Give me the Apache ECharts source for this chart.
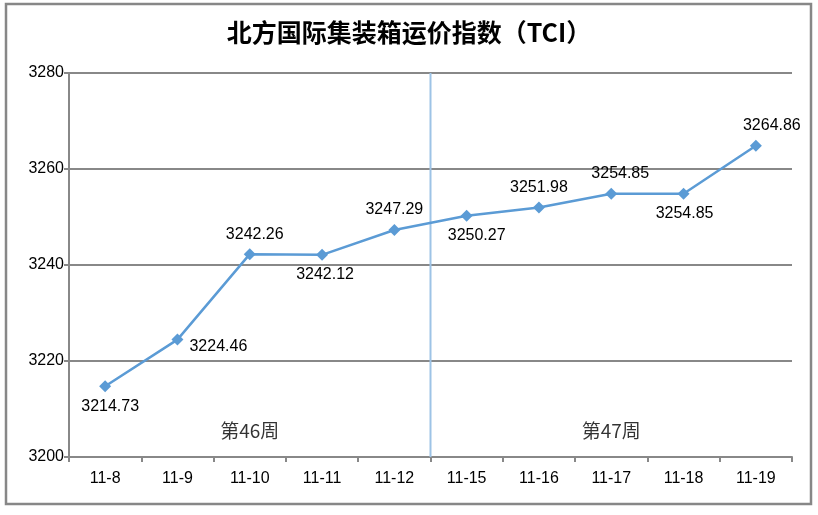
<!DOCTYPE html>
<html><head><meta charset="utf-8">
<script src="https://cdn.jsdelivr.net/npm/echarts@6/dist/echarts.min.js"></script>
<style>html,body{margin:0;padding:0;background:#fff}#c{width:818px;height:515px}</style>
</head><body><div id="c"></div>
<script>
const title = '北方国际集装箱运价指数（TCI）';
const categories = ['11-8','11-9','11-10','11-11','11-12','11-15','11-16','11-17','11-18','11-19'];
const values = [3214.73,3224.46,3242.26,3242.12,3247.29,3250.27,3251.98,3254.85,3254.85,3264.86];
const labelPos = ['bottom','right','top','bottom','top','bottom','top','top','bottom','top'];
const labelOffset = [[5,0],[0,7],[5,0],[3,0],[0,0],[10,0],[0,0],[9,0],[1,0],[16,0]];
const weekLabels = ['第46周','第47周'];
const weekPos = [2, 7];
const weekSplit = 4.5;
const yTicks = [3200,3220,3240,3260,3280];

const chart = echarts.init(document.getElementById('c'));
const font = 'Liberation Sans, Arial, sans-serif';
chart.setOption({
  animation:false,
  backgroundColor:'#fff',
  title:{text:title,left:'center',top:15,textStyle:{fontFamily:'Noto Sans CJK SC',fontSize:25,fontWeight:'bold',color:'#000'}},
  graphic:[{type:'rect',shape:{x:6,y:4,width:805,height:500},style:{fill:'none',stroke:'#878787',lineWidth:2.5},silent:true}],
  grid:{left:69,right:26,top:73,bottom:58},
  xAxis:[{type:'category',data:categories,boundaryGap:true,
    axisLine:{onZero:false,lineStyle:{color:'#888',width:2}},
    axisTick:{show:true,length:5,lineStyle:{color:'#888',width:2}},
    axisLabel:{color:'#000',fontSize:16,fontFamily:font,margin:14}},
   {type:'value',min:-0.5,max:9.5,show:false}],
  yAxis:{type:'value',min:yTicks[0],max:yTicks[yTicks.length-1],interval:20,
    axisLine:{show:true,onZero:false,lineStyle:{color:'#888',width:2}},
    axisTick:{show:true,length:5,lineStyle:{color:'#888',width:2}},
    splitLine:{lineStyle:{color:'#888',width:2}},
    axisLabel:{color:'#000',fontSize:16,fontFamily:font,margin:5,formatter:v=>String(v)}},
  series:[
   {type:'line',data:values.map((v,i)=>({value:v,label:{position:labelPos[i],offset:labelOffset[i]}})),
    symbol:'diamond',symbolSize:12,
    lineStyle:{color:'#5B9BD5',width:2.5},itemStyle:{color:'#5B9BD5'},
    label:{show:true,color:'#000',fontSize:16,fontFamily:font,distance:6,formatter:p=>p.value.toFixed(2)},z:5},
   {type:'line',xAxisIndex:1,data:[[weekSplit,yTicks[0]],[weekSplit,yTicks[yTicks.length-1]]],
    symbol:'none',lineStyle:{color:'#9DC3E6',width:2},z:3},
   {type:'scatter',xAxisIndex:0,data:weekPos.map((p,i)=>({value:[p,3205.4],label:{formatter:weekLabels[i]}})),
    symbolSize:0,label:{show:true,position:'inside',color:'#000',fontSize:19,fontFamily:'Noto Sans CJK SC'}}
  ]
});
</script></body></html>
